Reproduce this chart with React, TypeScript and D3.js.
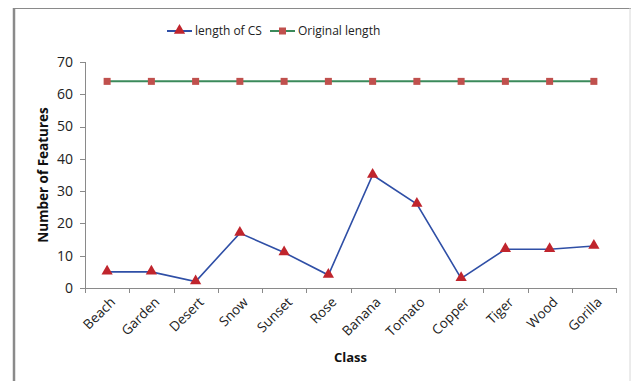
import React from "react";
import * as d3 from "d3";

const categories = ["Beach", "Garden", "Desert", "Snow", "Sunset", "Rose", "Banana", "Tomato", "Copper", "Tiger", "Wood", "Gorilla"];
const lengthOfCS = [5, 5, 2, 17, 11, 4, 35, 26, 3, 12, 12, 13];
const originalLength = [64, 64, 64, 64, 64, 64, 64, 64, 64, 64, 64, 64];
const yTicks = [0, 10, 20, 30, 40, 50, 60, 70];

const W = 631, H = 381;
const left = 85, right = 616, top = 62, bottom = 288;
const font = "'Open Sans', Lato, sans-serif";

export default function App() {
  const x = d3.scaleBand<string>().domain(categories).range([left, right]);
  const y = d3.scaleLinear().domain([0, 70]).range([bottom, top]);
  const cx = (c: string) => (x(c) as number) + x.bandwidth() / 2;
  const line = d3.line<number>().x((_, i) => cx(categories[i])).y((d) => y(d));
  const tri = d3.symbol().type(d3.symbolTriangle).size(55)();
  const blue = "#2F4FA6", red = "#C0252D", green = "#3B8A5B", sq = "#C0504D";
  const axis = "#8A8A8A";
  const boundaries = d3.range(categories.length + 1).map((i) => left + i * x.bandwidth());
  return (
    <svg width={W} height={H} style={{ position: "absolute", left: 0, top: 0, background: "#fff" }}>
      <rect x={0} y={0} width={W} height={H} fill="#fff" />
      <line x1={14} y1={8} x2={14} y2={H} stroke="#8a8a8a" strokeWidth={2.5} />
      <line x1={13} y1={8.5} x2={W} y2={8.5} stroke="#8a8a8a" strokeWidth={1} />
      <line x1={630} y1={8} x2={630} y2={H} stroke="#d8d8d8" strokeWidth={1} />
      {/* y axis */}
      <line x1={left + 0.5} y1={top} x2={left + 0.5} y2={bottom} stroke={axis} />
      {yTicks.map((t) => (
        <g key={t}>
          <line x1={left - 5} x2={left} y1={Math.round(y(t)) + 0.5} y2={Math.round(y(t)) + 0.5} stroke={axis} />
          <text x={left - 12} y={y(t)} dy="0.35em" textAnchor="end" fontSize={14} fontFamily={font} fill="#222">{t}</text>
        </g>
      ))}
      {/* x axis */}
      <line x1={left} y1={bottom + 0.5} x2={right} y2={bottom + 0.5} stroke={axis} />
      {boundaries.map((b, i) => (
        <line key={i} x1={Math.round(b) + 0.5} x2={Math.round(b) + 0.5} y1={bottom} y2={bottom + 5} stroke={axis} />
      ))}
      {categories.map((c) => (
        <text key={c} transform={`translate(${cx(c) + 9},${bottom + 15}) rotate(-45)`} textAnchor="end" fontSize={13.5} fontFamily={font} fill="#222">{c}</text>
      ))}
      <text x={(left + right) / 2} y={362} textAnchor="middle" fontSize={13} fontWeight="bold" fontFamily={font} fill="#111">Class</text>
      <text transform={`translate(48,${(top + bottom) / 2}) rotate(-90)`} textAnchor="middle" fontSize={13.5} fontWeight="bold" fontFamily={font} fill="#111">Number of Features</text>
      {/* series */}
      <path d={line(originalLength) as string} fill="none" stroke={green} strokeWidth={2} />
      {originalLength.map((v, i) => (
        <rect key={i} x={cx(categories[i]) - 3.5} y={y(v) - 3.5} width={7} height={7} fill={sq} />
      ))}
      <path d={line(lengthOfCS) as string} fill="none" stroke={blue} strokeWidth={1.6} />
      {lengthOfCS.map((v, i) => (
        <path key={i} d={tri as string} transform={`translate(${cx(categories[i])},${y(v) - 0.5})`} fill={red} />
      ))}
      {/* legend */}
      <line x1={167} x2={192} y1={31} y2={31} stroke={blue} strokeWidth={2} />
      <path d={tri as string} transform="translate(179.5,30.5)" fill={red} />
      <text x={195} y={31} dy="0.35em" fontSize={12} fontFamily={font} fill="#222">length of CS</text>
      <line x1={270} x2={295} y1={31} y2={31} stroke={green} strokeWidth={2} />
      <rect x={279} y={27.5} width={7} height={7} fill={sq} />
      <text x={298} y={31} dy="0.35em" fontSize={12} fontFamily={font} fill="#222">Original length</text>
    </svg>
  );
}
